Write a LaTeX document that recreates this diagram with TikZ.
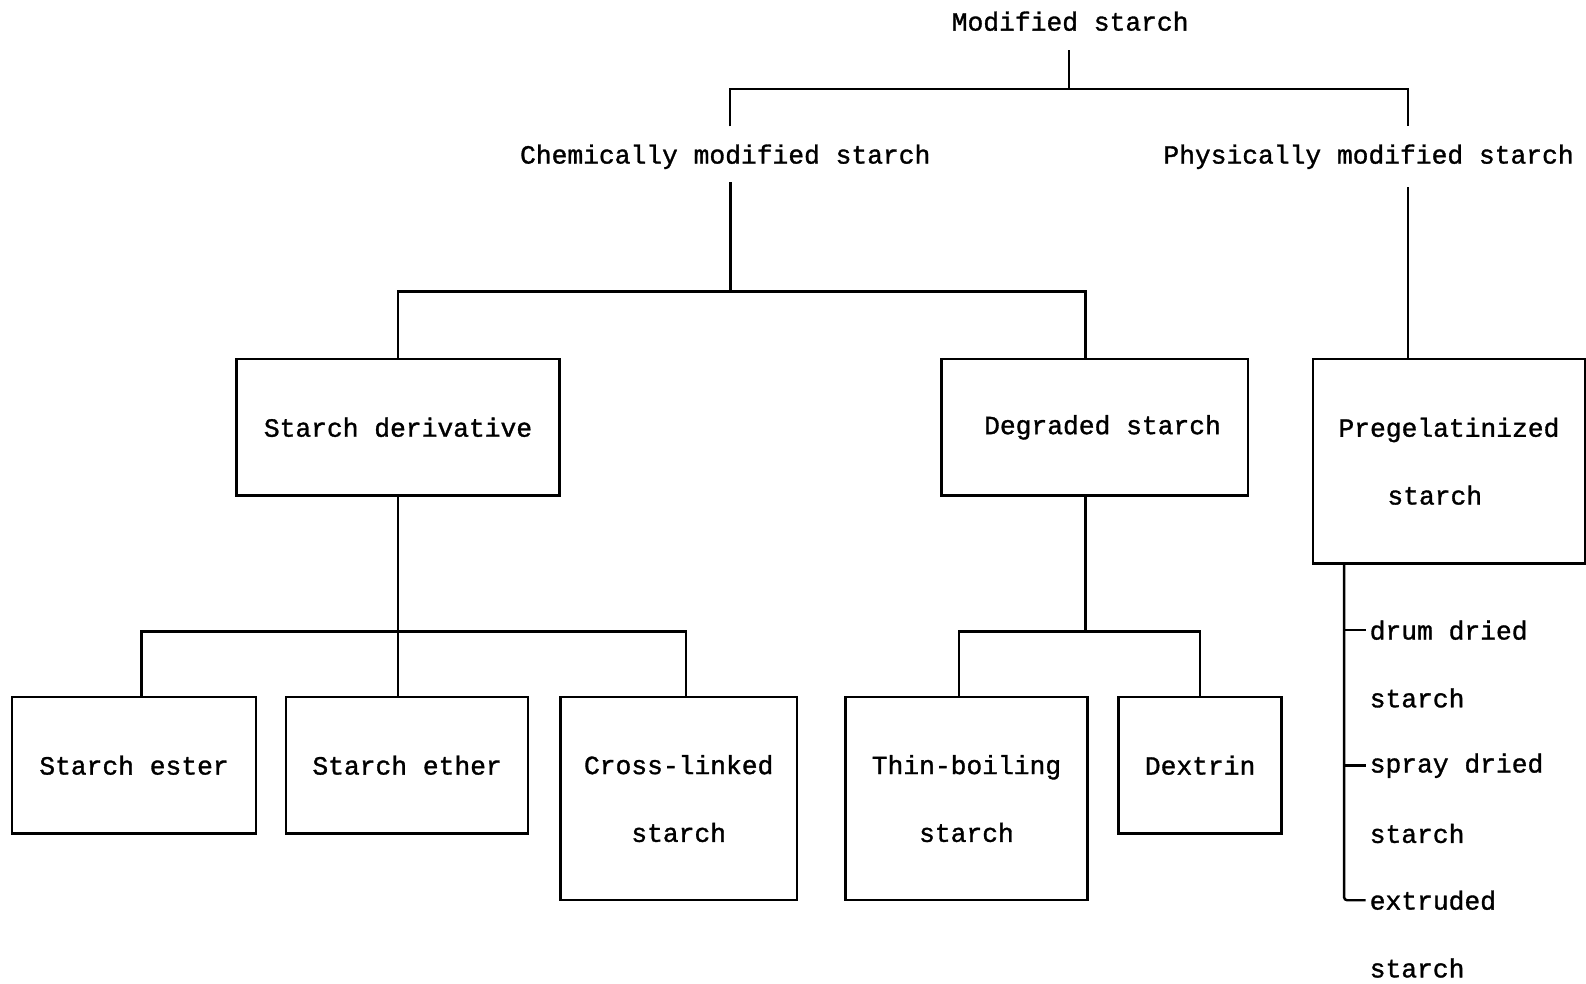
\documentclass[tikz,border=0pt]{standalone}
\usepackage{fontspec}
\newfontfamily\monofam{Liberation Mono}[FakeBold=1.2]
\newcommand{\txtfont}{\monofam\fontsize{26}{67}\selectfont}
\begin{document}
\begin{tikzpicture}[x=1pt,y=-1pt,line width=2.4pt,
  every node/.style={font=\txtfont,inner sep=0pt},
  box/.style={draw,align=center,line width=2.4pt},
  item/.style={anchor=west,inner sep=3pt}]
\useasboundingbox (0,0) rectangle (1568,972);
% top level
\node (ms) at (1058,21) {Modified starch};
\node (cms) at (717,155) {Chemically modified starch};
\node (pms) at (1353,155) {Physically modified starch};
% boxes
\node[box,minimum width=319pt,minimum height=135pt] (sd) at (393.5,422.5) {Starch derivative};
\node[box,minimum width=303pt,minimum height=135pt] (ds) at (1082.5,422.5) {\hspace*{15pt}Degraded starch};
\node[box,minimum width=269pt,minimum height=202pt] (pg) at (1432.5,456) {Pregelatinized\\\hspace*{-28pt}starch};
\node[box,minimum width=241pt,minimum height=135pt] (se) at (132.5,756.5) {Starch ester};
\node[box,minimum width=239pt,minimum height=135pt] (st) at (402.5,756.5) {Starch ether};
\node[box,minimum width=234pt,minimum height=201pt] (cl) at (671,789.5) {Cross-linked\\starch};
\node[box,minimum width=239pt,minimum height=201pt] (tb) at (955.5,789.5) {Thin-boiling\\starch};
\node[box,minimum width=161pt,minimum height=135pt] (dx) at (1186.5,756.5) {Dextrin};
% list items
\node[item] (d1) at (1350,623) {drum dried};
\node[item] (d2) at (1350,690) {starch};
\node[item] (s1) at (1350,757) {spray dried};
\node[item] (s2) at (1350,824) {starch};
\node[item] (e1) at (1350,890) {extruded};
\node[item] (e2) at (1350,957) {starch};
% connectors level 1
\coordinate (j0) at (1057,88);
\coordinate (c1) at (722,125);
\coordinate (p1) at (1392,125);
\draw[line width=1.8pt,shorten <=18pt] (ms.south -| j0) -- (j0);
\draw[line width=2.2pt] (c1) |- (j0) -| (p1);
% chemically
\coordinate (c2) at (722,180);
\coordinate (j1) at (722,288);
\draw (c2) -- (j1);
\draw (sd.north) |- (j1) -| ([xshift=-9.5pt]ds.north);
% physically
\coordinate (p2) at (1392,185);
\draw (p2) -- ([xshift=-40.5pt]pg.north);
% starch derivative
\draw (sd.south) -- ++(0,133) coordinate (j2);
\draw (j2) -- (j2 |- st.north);
\draw ([xshift=7.5pt]se.north) |- (j2) -| ([xshift=7pt]cl.north);
% degraded
\draw ([xshift=-9.5pt]ds.south) -- ++(0,133) coordinate (j3);
\draw ([xshift=-7.5pt]tb.north) |- (j3) -| (dx.north);
% pregelatinized list
\coordinate (v0) at ([xshift=32pt]pg.south west);
\draw[rounded corners=3pt] (v0) |- (e1.west);
\draw (v0 |- d1.west) -- (d1.west);
\draw (v0 |- s1.west) -- (s1.west);
\end{tikzpicture}
\end{document}
